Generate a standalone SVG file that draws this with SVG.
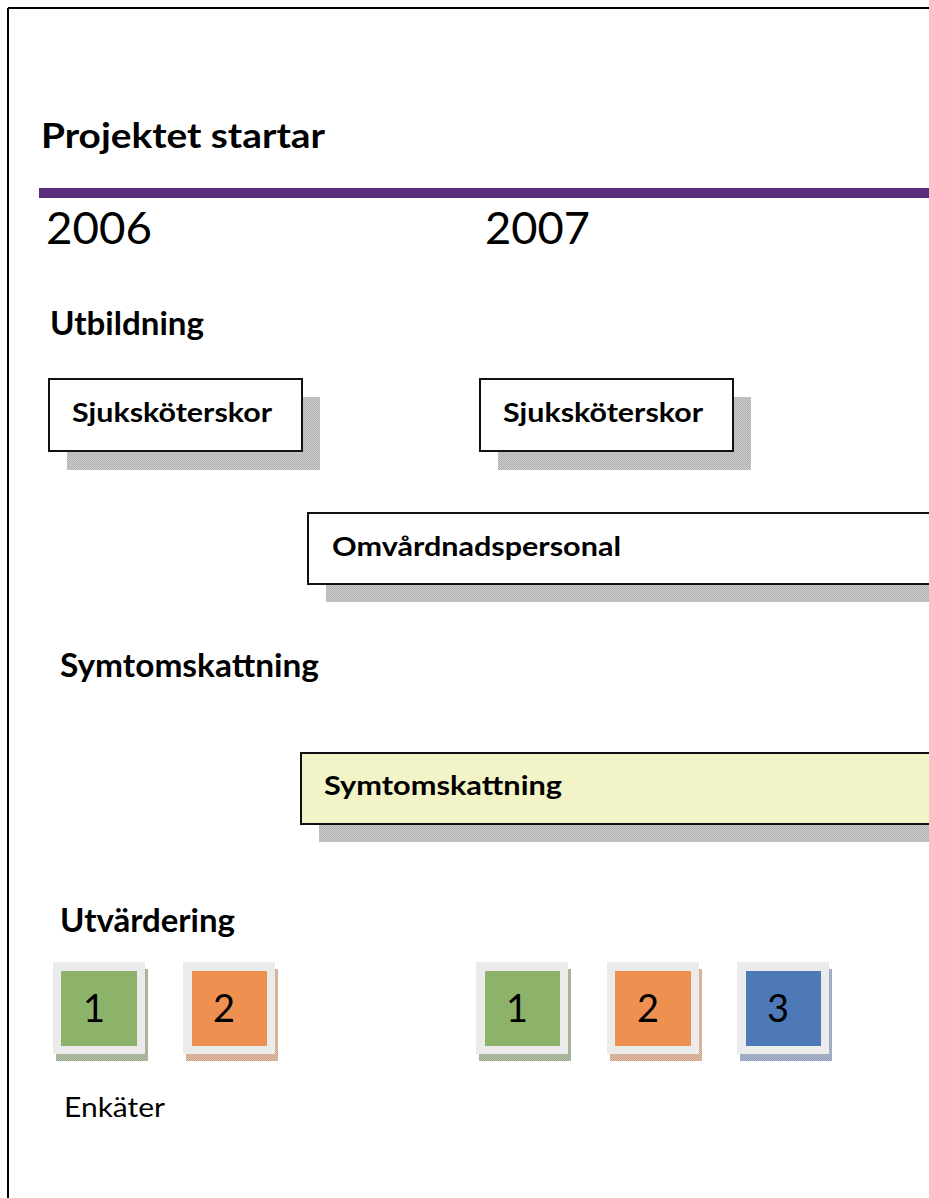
<svg xmlns="http://www.w3.org/2000/svg" width="929" height="1198" viewBox="0 0 929 1198">
<defs>
<pattern id="pGray" width="2" height="2" patternUnits="userSpaceOnUse"><rect width="2" height="2" fill="#cbcbcb"/><rect width="1" height="1" fill="#b2b2b2"/><rect x="1" y="1" width="1" height="1" fill="#b2b2b2"/></pattern>
<pattern id="pGreen" width="2" height="2" patternUnits="userSpaceOnUse"><rect width="2" height="2" fill="#b9c4ae"/><rect width="1" height="1" fill="#97a688"/><rect x="1" y="1" width="1" height="1" fill="#97a688"/></pattern>
<pattern id="pOrange" width="2" height="2" patternUnits="userSpaceOnUse"><rect width="2" height="2" fill="#e2c1ad"/><rect width="1" height="1" fill="#cfa286"/><rect x="1" y="1" width="1" height="1" fill="#cfa286"/></pattern>
<pattern id="pBlue" width="2" height="2" patternUnits="userSpaceOnUse"><rect width="2" height="2" fill="#b3bdd0"/><rect width="1" height="1" fill="#8c9bb8"/><rect x="1" y="1" width="1" height="1" fill="#8c9bb8"/></pattern>
</defs>
<style>
.b{font-family:Lato,"Liberation Sans",sans-serif;font-weight:bold;fill:#000}
.r{font-family:Lato,"Liberation Sans",sans-serif;font-weight:normal;fill:#000}
.box{fill:#fff;stroke:#111;stroke-width:2}
.sh{fill:url(#pGray)}
.frame{fill:#ebebeb}
.num{font-family:Lato,"Liberation Sans",sans-serif;font-size:38px;fill:#000;text-anchor:middle}
</style>
<rect width="929" height="1198" fill="#fff"/>
<g id="frame">
<line x1="8" y1="8" x2="929" y2="8" stroke="#000" stroke-width="2"/>
<line x1="8" y1="8" x2="8" y2="1198" stroke="#000" stroke-width="2"/>
</g>
<g id="timeline">
<text class="b" x="41" y="148" font-size="35" textLength="284" lengthAdjust="spacingAndGlyphs">Projektet startar</text>
<rect x="39" y="188" width="900" height="10" fill="#5b2c7c"/>
<text class="r" x="46" y="244" font-size="44" textLength="106" lengthAdjust="spacingAndGlyphs">2006</text>
<text class="r" x="485" y="244" font-size="44" textLength="105" lengthAdjust="spacingAndGlyphs">2007</text>
</g>
<g id="utbildning">
<text class="b" x="50" y="335" font-size="32" textLength="154" lengthAdjust="spacingAndGlyphs">Utbildning</text>
</g>
<g id="sjukskoterskor1">
<rect class="sh" x="67" y="397" width="253" height="73"/>
<rect class="box" x="49" y="379" width="253" height="72"/>
<text class="b" x="72" y="422" font-size="26" textLength="200" lengthAdjust="spacingAndGlyphs">Sjuksköterskor</text>
</g>
<g id="sjukskoterskor2">
<rect class="sh" x="498" y="397" width="253" height="73"/>
<rect class="box" x="480" y="379" width="253" height="72"/>
<text class="b" x="503" y="422" font-size="26" textLength="200" lengthAdjust="spacingAndGlyphs">Sjuksköterskor</text>
</g>
<g id="omvardnadspersonal">
<rect class="sh" x="326" y="531" width="640" height="71"/>
<rect class="box" x="308" y="513" width="640" height="71"/>
<text class="b" x="332" y="556" font-size="27" textLength="289" lengthAdjust="spacingAndGlyphs">Omvårdnadspersonal</text>
</g>
<g id="symtomskattning-heading">
<text class="b" x="60" y="677" font-size="32" textLength="259" lengthAdjust="spacingAndGlyphs">Symtomskattning</text>
</g>
<g id="symtomskattning">
<rect class="sh" x="319" y="771" width="640" height="71"/>
<rect class="box" x="301" y="753" width="640" height="71" style="fill:#f2f3c7"/>
<text class="b" x="324" y="795" font-size="27" textLength="238" lengthAdjust="spacingAndGlyphs">Symtomskattning</text>
</g>
<g id="utvardering">
<text class="b" x="60" y="932" font-size="32" textLength="175" lengthAdjust="spacingAndGlyphs">Utvärdering</text>
</g>
<g id="enkat1-2006">
<rect x="56" y="969" width="92" height="92" fill="url(#pGreen)"/>
<rect class="frame" x="53" y="962" width="92" height="92"/>
<rect x="61" y="971" width="76" height="75" fill="#8db36a"/>
<text class="num" x="94" y="1022">1</text>
</g>
<g id="enkat2-2006">
<rect x="186" y="969" width="92" height="92" fill="url(#pOrange)"/>
<rect class="frame" x="183" y="962" width="92" height="92"/>
<rect x="192" y="971" width="75" height="75" fill="#ee9150"/>
<text class="num" x="224" y="1022">2</text>
</g>
<g id="enkat1-2007">
<rect x="479" y="969" width="92" height="92" fill="url(#pGreen)"/>
<rect class="frame" x="476" y="962" width="92" height="92"/>
<rect x="485" y="971" width="75" height="75" fill="#8db36a"/>
<text class="num" x="517" y="1022">1</text>
</g>
<g id="enkat2-2007">
<rect x="610" y="969" width="92" height="92" fill="url(#pOrange)"/>
<rect class="frame" x="607" y="962" width="92" height="92"/>
<rect x="615" y="971" width="76" height="75" fill="#ee9150"/>
<text class="num" x="648" y="1022">2</text>
</g>
<g id="enkat3-2007">
<rect x="740" y="969" width="92" height="92" fill="url(#pBlue)"/>
<rect class="frame" x="737" y="962" width="92" height="92"/>
<rect x="746" y="971" width="75" height="75" fill="#4d7ab6"/>
<text class="num" x="778" y="1022">3</text>
</g>
<g id="enkater-label">
<text class="r" x="64" y="1117" font-size="27" textLength="101" lengthAdjust="spacingAndGlyphs">Enkäter</text>
</g>
<g id="connectors"/>
</svg>
